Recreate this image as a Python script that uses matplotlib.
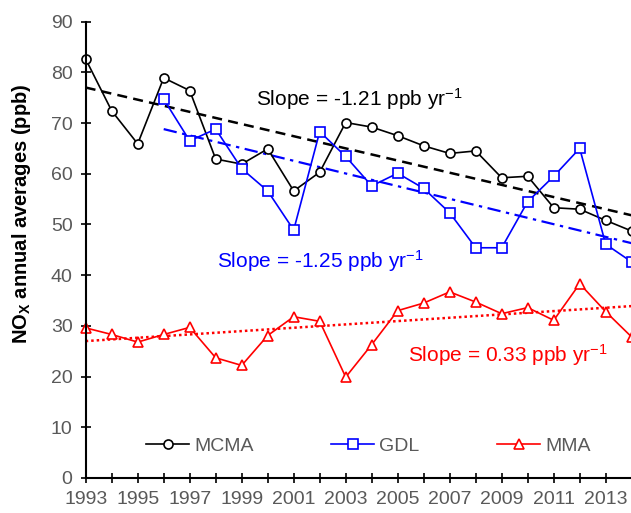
import matplotlib
matplotlib.use("Agg")
import matplotlib.pyplot as plt

# Annual NOx averages (ppb)
years = list(range(1993, 2015))
mcma = [82.6, 72.4, 65.9, 78.9, 76.4, 62.9, 61.9, 64.9, 56.6, 60.3, 70.1,
        69.2, 67.5, 65.5, 64.0, 64.5, 59.2, 59.5, 53.3, 53.0, 50.8, 48.7]
gdl_years = list(range(1996, 2015))
gdl = [74.7, 66.5, 68.8, 61.0, 56.6, 48.9, 68.3, 63.4, 57.6, 60.1, 57.1,
       52.3, 45.4, 45.4, 54.5, 59.5, 65.0, 46.1, 42.6]
mma = [29.6, 28.3, 26.8, 28.3, 29.7, 23.7, 22.2, 28.1, 31.8, 30.9, 19.9,
       26.3, 33.0, 34.5, 36.7, 34.7, 32.4, 33.6, 31.1, 38.3, 32.8, 27.8]

# Trend line end points (as drawn in the reference)
trend_mcma_x = [1993, 2014]
trend_mcma = [77.0, 51.8]
trend_gdl_x = [1996, 2014]
trend_gdl = [68.8, 46.3]
trend_mma_x = [1993, 2014]
trend_mma = [27.0, 33.9]

xtick_labels = [str(y) if y % 2 == 1 else "" for y in years]
yticks = list(range(0, 91, 10))

plt.rcParams['font.family'] = ['Liberation Sans', 'DejaVu Sans']
plt.rcParams['mathtext.fontset'] = 'custom'
plt.rcParams['mathtext.rm'] = 'Liberation Sans'
plt.rcParams['mathtext.it'] = 'Liberation Sans:italic'
plt.rcParams['mathtext.bf'] = 'Liberation Sans:bold'

gray = '#595959'

fig = plt.figure(figsize=(6.31, 5.13), dpi=100)
ax = fig.add_axes([85.7 / 631, 1 - 478 / 513, 546 / 631, 456.4 / 513])

# Linear trend lines
ax.plot(trend_mcma_x, trend_mcma, color='black', lw=1.8, ls=(0, (4, 2.5)))
ax.plot(trend_gdl_x, trend_gdl, color='blue', lw=1.6, ls=(0, (6, 2.5, 1.5, 2.5)))
ax.plot(trend_mma_x, trend_mma, color='red', lw=1.8, ls=(0, (1, 1.2)))

# Data series
ax.plot(years, mcma, color='black', lw=1.2, marker='o', ms=6.5,
        mfc='white', mec='black', mew=1.2, label='MCMA', clip_on=False)
ax.plot(gdl_years, gdl, color='blue', lw=1.2, marker='s', ms=6.5,
        mfc='white', mec='blue', mew=1.2, label='GDL', clip_on=False)
ax.plot(years, mma, color='red', lw=1.2, marker='^', ms=7.5,
        mfc='white', mec='red', mew=1.2, label='MMA', clip_on=False)

# Slope annotations
ax.text(1999.54, 73.4, 'Slope = -1.21 ppb yr$^{-1}$', fontsize=15, color='black',
        va='baseline')
ax.text(1998.06, 41.4, 'Slope = -1.25 ppb yr$^{-1}$', fontsize=15, color='blue',
        va='baseline')
ax.text(2005.38, 22.9, 'Slope = 0.33 ppb yr$^{-1}$', fontsize=15, color='red',
        va='baseline')

ax.set_xlim(1993, 2014)
ax.set_ylim(0, 90)
ax.set_xticks(years)
ax.set_xticklabels(xtick_labels)
ax.set_yticks(yticks)
ax.tick_params(direction='inout', length=7, width=1.2, colors='black',
               labelcolor=gray, labelsize=14)
ax.tick_params(axis='x', pad=6)
ax.tick_params(axis='y', pad=6)
for side in ['top', 'right']:
    ax.spines[side].set_visible(False)
for side in ['left', 'bottom']:
    ax.spines[side].set_linewidth(1.5)

ax.set_ylabel(r'NO$_\mathbf{X}$ annual averages (ppb)', fontsize=14.5,
              fontweight='bold', va='center')
ax.yaxis.set_label_coords(-0.118, 0.578)

leg = ax.legend(loc='center', bbox_to_anchor=(0.518, 0.07), ncol=3, frameon=False,
                fontsize=14, handlelength=2.2, columnspacing=4.0, handletextpad=0.26)
for t in leg.get_texts():
    t.set_color(gray)

fig.savefig('out.png', dpi=100)
